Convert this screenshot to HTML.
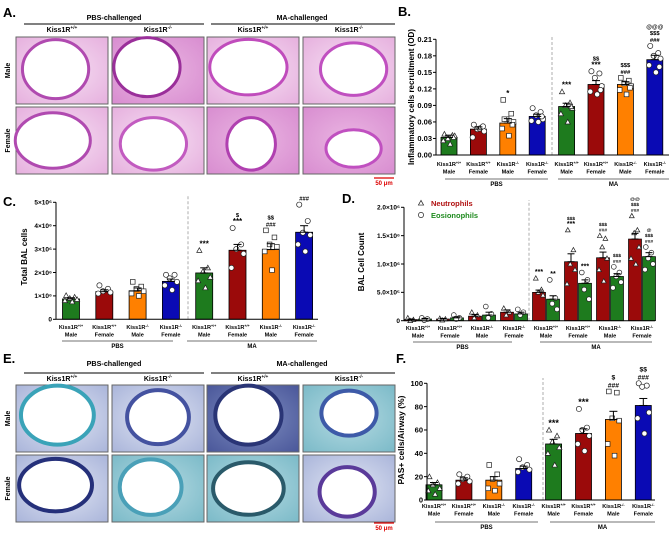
<!DOCTYPE html>
<html><head><meta charset="utf-8"><style>
html,body{margin:0;padding:0;background:#fff;}
svg{display:block;font-family:"Liberation Sans",Arial,sans-serif;}
</style></head><body>
<svg id="fig" width="669" height="535" viewBox="0 0 669 535" xmlns="http://www.w3.org/2000/svg">
<defs>
<radialGradient id="heBg" cx="50%" cy="50%" r="70%"><stop offset="0" stop-color="#f6e0f3"/><stop offset="1" stop-color="#e6b0de"/></radialGradient>
<radialGradient id="heBg2" cx="50%" cy="50%" r="70%"><stop offset="0" stop-color="#eab5e2"/><stop offset="1" stop-color="#d88dd0"/></radialGradient>
<radialGradient id="pasBg" cx="50%" cy="50%" r="70%"><stop offset="0" stop-color="#e0e5f3"/><stop offset="1" stop-color="#aab5da"/></radialGradient>
<radialGradient id="pasBg2" cx="50%" cy="50%" r="70%"><stop offset="0" stop-color="#7f8ec0"/><stop offset="1" stop-color="#4a579a"/></radialGradient>
<radialGradient id="pasBg3" cx="50%" cy="50%" r="70%"><stop offset="0" stop-color="#b5dae2"/><stop offset="1" stop-color="#7bbac8"/></radialGradient>
</defs>
<g id="panels"></g>
</svg>
<script>
// ---------- data ----------
const groupSex = ["Male","Female","Male","Female","Male","Female","Male","Female"];
const groupGeno = ["+/+","+/+","-/-","-/-","+/+","+/+","-/-","-/-"];
const barColors = ["#1e7b1e","#9b0a0a","#ff8000","#0a0ab4","#1e7b1e","#9b0a0a","#ff8000","#0a0ab4"];
const markerShapes = ["tri","circ","sq","circ","tri","circ","sq","circ"];

const bValues = [0.032,0.047,0.058,0.070,0.088,0.128,0.128,0.173];
const bErrors = [0.004,0.004,0.008,0.004,0.006,0.007,0.005,0.008];
const bPoints = [[0.038,0.036,0.030,0.035,0.026,0.020,0.032],[0.055,0.050,0.047,0.043,0.032,0.048,0.052],[0.100,0.075,0.065,0.060,0.048,0.035,0.055,0.065],[0.085,0.078,0.072,0.065,0.062,0.060,0.070],[0.115,0.095,0.090,0.085,0.075,0.060,0.088],[0.152,0.148,0.140,0.125,0.115,0.110,0.118],[0.140,0.135,0.130,0.125,0.118,0.110,0.122],[0.198,0.185,0.180,0.175,0.163,0.150,0.160]];
const bSig = ["","","*","","***","$$|***","$$$|###","@@@|$$$|###"];
const bTicks = ["0.00","0.03","0.06","0.09","0.12","0.15","0.18","0.21"];

const cValues = [0.87,1.18,1.22,1.62,1.98,2.95,2.98,3.72];
const cErrors = [0.05,0.08,0.12,0.10,0.22,0.25,0.25,0.28];
const cPoints = [[1.02,0.95,0.9,0.85,0.8,0.75],[1.45,1.3,1.2,1.15,1.1],[1.6,1.4,1.3,1.2,1.1,1.0],[1.9,1.9,1.75,1.6,1.45,1.25],[2.95,2.2,2.05,1.8,1.65,1.35],[3.9,3.2,3.0,2.8,2.2],[3.8,3.5,3.2,3.1,2.9,2.1],[4.9,4.2,3.7,3.6,3.2,2.9]];
const cSig = ["","","","","***","$|***","$$|###","###"];
const cTicks = ["0","1×10⁶","2×10⁶","3×10⁶","4×10⁶","5×10⁶"];

const dNeut = [0.02,0.03,0.08,0.15,0.50,1.04,1.11,1.44];
const dNeutErr = [0.01,0.01,0.03,0.04,0.04,0.14,0.10,0.10];
const dEos = [0.03,0.05,0.10,0.12,0.38,0.66,0.78,1.13];
const dEosErr = [0.01,0.02,0.05,0.03,0.06,0.06,0.05,0.07];
const dNeutPts = [[0.05,0.02,0],[0.04,0.03,0.01],[0.15,0.1,0.05],[0.22,0.15,0.1],[0.75,0.55,0.5,0.45],[1.6,1.25,1.0,0.9,0.65],[1.5,1.45,1.3,1.1,0.9,0.7],[1.85,1.6,1.55,1.3,1.1,1.0]];
const dEosPts = [[0.05,0.03,0.01],[0.1,0.05,0.03],[0.25,0.12,0.05],[0.2,0.15,0.1],[0.72,0.4,0.3,0.2],[0.85,0.72,0.55,0.38],[0.95,0.85,0.78,0.68,0.58],[1.3,1.2,1.1,1.0,0.9]];
const dNeutSig = ["","","","","***","$$$|***","$$$|###","@@|$$$|###"];
const dEosSig = ["","","","","**","***","$$$|###","@|$$$|###"];
const dTicks = ["0","5.0×10⁵","1.0×10⁶","1.5×10⁶","2.0×10⁶"];

const fValues = [13,17,17,27,48,57,69,81];
const fErrors = [2,2,3,2,4,4,7,6];
const fPoints = [[20,15,13,10,8,5],[22,20,18,16,14],[30,22,18,14,10,8],[35,30,28,26,24],[60,55,50,45,40,30],[78,62,60,55,48,42],[93,92,70,68,48,38],[100,98,97,75,70,57]];
const fSig = ["","","","","***","***","$|###","$$|###"];
const fTicks = ["0","20","40","60","80","100"];

// ---------- helpers ----------
const NS="http://www.w3.org/2000/svg";
const root=document.getElementById('panels');
function el(tag,attrs,parent){const e=document.createElementNS(NS,tag);for(const k in attrs)e.setAttribute(k,attrs[k]);(parent||root).appendChild(e);return e;}
function txt(s,x,y,size,opts,parent){opts=opts||{};const t=el('text',{x:x,y:y,'font-size':size,'font-weight':opts.w||'bold','text-anchor':opts.a||'middle',fill:opts.c||'#000'},parent);if(opts.rot)t.setAttribute('transform','rotate(-90 '+x+' '+y+')');t.textContent=s;return t;}
function marker(g,shape,x,y,r){
  let m;
  if(shape==='tri'){m=el('polygon',{points:(x)+','+(y-r)+' '+(x-r)+','+(y+r*0.8)+' '+(x+r)+','+(y+r*0.8),fill:'#fff',stroke:'#222','stroke-width':0.7},g);}
  else if(shape==='sq'){m=el('rect',{x:x-r*0.9,y:y-r*0.9,width:r*1.8,height:r*1.8,fill:'#fff',stroke:'#222','stroke-width':0.7},g);}
  else {m=el('circle',{cx:x,cy:y,r:r,fill:'#fff',stroke:'#222','stroke-width':0.7},g);}
  
  
}
const jit=[-4,3,-1,5,-5,1,4,-3];
function sigText(g,s,x,yTop,size){if(!s)return;const parts=s.split('|');for(let i=parts.length-1,k=0;i>=0;i--,k++){const t=txt(parts[i],x,yTop-k*size*1.05,parts[i].indexOf('*')>=0?size+1.5:size*0.9,{},g);}}
function xLabels(g,centers,y1,size){
  centers.forEach((cx,i)=>{
    const t=el('text',{x:cx,y:y1,'font-size':size,'font-weight':'bold','text-anchor':'middle'},g);
    
    
    t.appendChild(document.createTextNode('Kiss1R'));
    const s=el('tspan',{'font-size':size*0.65,dy:-size*0.4},t);s.textContent=groupGeno[i];
    const t2=txt(groupSex[i],cx,y1+size*1.3,size,{},g);
    
    
  });
}
function groupLines(g,pbs,ma,y,size){
  const l1=el('line',{x1:pbs[0],x2:pbs[1],y1:y,y2:y,stroke:'#444','stroke-width':0.8},g);
  
  
  const l2=el('line',{x1:ma[0],x2:ma[1],y1:y,y2:y,stroke:'#444','stroke-width':0.8},g);
  
  
  const a=txt('PBS',(pbs[0]+pbs[1])/2,y+7,size,{},g);
  const b=txt('MA',(ma[0]+ma[1])/2,y+7,size,{},g);
}
function yAxis(g,ax,y0,yTop,ticks,size){
  const l=el('line',{x1:ax,x2:ax,y1:y0,y2:yTop,stroke:'#000','stroke-width':1},g);
  
  ticks.forEach((tk,i)=>{const y=y0-(y0-yTop)*i/(ticks.length-1);
    el('line',{x1:ax-3,x2:ax,y1:y,y2:y,stroke:'#000','stroke-width':1},g);
    const t=txt(tk,ax-4,y+size*0.35,size,{a:'end'},g);});
}
function barChart(name,opt,values,errors,points,sig){
  const g=el('g',{});
  const sy=v=>opt.y0-(v/opt.max)*(opt.y0-opt.yTop);
  const centers=values.map((v,i)=>opt.c0+opt.step*i);
  const dl=el('line',{x1:opt.dash,x2:opt.dash,y1:opt.y0,y2:opt.dashTop,stroke:'#999','stroke-width':0.8,'stroke-dasharray':'3,2'},g);
  
  values.forEach((v,i)=>{const cx=centers[i];
    const r=el('rect',{x:cx-opt.bw/2,y:sy(v),width:opt.bw,height:opt.y0-sy(v),fill:barColors[i],stroke:'#000','stroke-width':0.8},g);
    
    points[i].forEach((p,k)=>marker(g,markerShapes[i],cx+jit[k%8]*opt.bw/14,sy(p),2.6));
    const e=errors[i];
    el('line',{x1:cx,x2:cx,y1:sy(v),y2:sy(v+e),stroke:'#000','stroke-width':1},g);
    el('line',{x1:cx-4,x2:cx+4,y1:sy(v+e),y2:sy(v+e),stroke:'#000','stroke-width':1},g);
    el('line',{x1:cx-4,x2:cx+4,y1:sy(v),y2:sy(v),stroke:'#000','stroke-width':1},g);
    const top=Math.min(sy(v+e),sy(Math.max.apply(null,points[i])))-4;
    sigText(g,sig[i],cx,top,opt.sigSize||6);
  });
  yAxis(g,opt.ax,opt.y0,opt.yTop,opt.ticks,opt.tickSize);
  const xa=el('line',{x1:opt.ax,x2:opt.right,y1:opt.y0,y2:opt.y0,stroke:'#000','stroke-width':1},g);
  
  xLabels(g,centers,opt.ly,5.6);
  groupLines(g,opt.pbs,opt.ma,opt.gy,6);
  const yt=txt(opt.title,opt.tx,opt.ty,opt.tsize||8,{rot:true},g);
}
function histo(x,y,w,h,bg,ring,ringW,lum,name){
  const g=el('g',{});
  el('rect',{x:x,y:y,width:w,height:h,fill:bg,stroke:'#666','stroke-width':1},g);
  el('ellipse',{cx:x+w*lum[0],cy:y+h*lum[1],rx:w*Math.min(lum[2]*1.2,0.42),ry:h*Math.min(lum[3]*1.12,0.44),fill:'#fff',stroke:ring,'stroke-width':ringW},g);
}
function panelLabel(s,x,y){const t=txt(s,x,y,13,{a:'start'});}
function histoPanel(letter,top,lineY,hdrY,r1,r2,bgs,rings,ringW,lums,scaleY){
  panelLabel(letter+'.',3,top);
  const a=txt('PBS-challenged',114,top+3,7.2);
  const b=txt('MA-challenged',302,top+3,7.2);
  el('line',{x1:24,x2:204,y1:lineY,y2:lineY,stroke:'#000','stroke-width':1});
  el('line',{x1:211,x2:395,y1:lineY,y2:lineY,stroke:'#000','stroke-width':1});
  const xs=[16,112,207,303];const gen=['+/+','-/-','+/+','-/-'];
  xs.forEach((x,i)=>{const t=el('text',{x:x+46,y:hdrY,'font-size':7,'font-weight':'bold','text-anchor':'middle'});
    
    t.appendChild(document.createTextNode('Kiss1R'));const s=el('tspan',{'font-size':4.8,dy:-3},t);s.textContent=gen[i];
    histo(x,r1[0],92,r1[1]-r1[0],bgs[i][0],rings[i][0],ringW,lums[i][0],'micrograph-male-'+(i+1));
    histo(x,r2[0],92,r2[1]-r2[0],bgs[i][1],rings[i][1],ringW,lums[i][1],'micrograph-female-'+(i+1));});
  const m=txt('Male',10,(r1[0]+r1[1])/2,7,{rot:true});
  const f=txt('Female',10,(r2[0]+r2[1])/2,7,{rot:true});
  el('line',{x1:374,x2:394,y1:scaleY,y2:scaleY,stroke:'#d00','stroke-width':1.2});
  const sb=txt('50 μm',384,scaleY+7,6,{c:'#d00'});
}
// ---------- panel A ----------
histoPanel('A',17,24,32,[37,104],[107,174],
 [["url(#heBg)","url(#heBg)"],["url(#heBg2)","url(#heBg)"],["url(#heBg)","url(#heBg2)"],["url(#heBg)","url(#heBg2)"]],
 [["#b04ab0","#b04ab0"],["#9a2f9a","#c25bc0"],["#c04cbc","#b040b0"],["#c050c0","#c050c0"]],3,
 [[[0.43,0.48,0.3,0.4],[0.4,0.5,0.34,0.37]],[[0.38,0.45,0.3,0.4],[0.45,0.55,0.3,0.35]],[[0.45,0.45,0.38,0.37],[0.48,0.55,0.22,0.35]],[[0.55,0.48,0.3,0.35],[0.55,0.62,0.25,0.25]]],178);
// ---------- panel E ----------
histoPanel('E',363,373,381,[385,452],[455,522],
 [["url(#pasBg)","url(#pasBg)"],["url(#pasBg)","url(#pasBg3)"],["url(#pasBg2)","url(#pasBg3)"],["url(#pasBg3)","url(#pasBg)"]],
 [["#3aa3b8","#25307a"],["#4452a0","#4aa0b8"],["#2a3576","#2a5a6a"],["#3d5aa8","#5a3a9a"]],4,
 [[[0.45,0.45,0.33,0.4],[0.43,0.45,0.33,0.35]],[[0.5,0.48,0.28,0.36],[0.42,0.48,0.28,0.37]],[[0.45,0.45,0.3,0.4],[0.45,0.5,0.32,0.35]],[[0.5,0.42,0.25,0.3],[0.48,0.55,0.25,0.33]]],523);
// ---------- panel B ----------
panelLabel('B.',398,16);
barChart('chart-b-inflammatory',{ax:436,y0:155,yTop:39.3,max:0.21,c0:449,step:29.4,bw:16,dash:552,dashTop:35,right:669,ticks:bTicks,tickSize:7.5,ly:166,pbs:[445,548],ma:[558,669],gy:179,title:'Inflammatory cells recruitment (OD)',tx:414,ty:97,sigSize:6.5},bValues,bErrors,bPoints,bSig);
// ---------- panel C ----------
panelLabel('C.',3,206);
barChart('chart-c-total-bal',{ax:56,y0:319.3,yTop:202.3,max:5,c0:71,step:33.3,bw:17,dash:188,dashTop:196,right:318,ticks:cTicks,tickSize:6.5,ly:329,pbs:[62,173],ma:[187,317],gy:341,title:'Total BAL cells',tx:27,ty:257,sigSize:6.5},cValues,cErrors,cPoints,cSig);
// ---------- panel F ----------
panelLabel('F.',396,363);
barChart('chart-f-pas',{ax:427,y0:500,yTop:383.3,max:100,c0:434,step:29.9,bw:16,dash:543,dashTop:378,right:655,ticks:fTicks,tickSize:7.5,ly:508,pbs:[435,538],ma:[550,655],gy:522,title:'PAS+ cells/Airway (%)',tx:404,ty:440,tsize:8.5,sigSize:7.5},fValues,fErrors,fPoints,fSig);
// ---------- panel D ----------
panelLabel('D.',342,203);
(function(){
  const g=el('g',{});
  const y0=320.7,yTop=207.3,max=2.0;const sy=v=>y0-(v/max)*(y0-yTop);
  const dl=el('line',{x1:529,x2:529,y1:y0,y2:200,stroke:'#999','stroke-width':0.8,'stroke-dasharray':'3,2'},g);
  
  const centers=dNeut.map((v,i)=>418+32*i);
  function bar(cx,v,e,pts,col,shape,sig,nm){
    const r=el('rect',{x:cx-6.5,y:sy(v),width:13,height:y0-sy(v),fill:col,stroke:'#000','stroke-width':0.7},g);
    
    pts.forEach((p,k)=>marker(g,shape,cx+jit[k%8]*0.8,sy(p),2.4));
    el('line',{x1:cx,x2:cx,y1:sy(v),y2:sy(v+e),stroke:'#000','stroke-width':1},g);
    el('line',{x1:cx-3.5,x2:cx+3.5,y1:sy(v+e),y2:sy(v+e),stroke:'#000','stroke-width':1},g);
    el('line',{x1:cx-3.5,x2:cx+3.5,y1:sy(v),y2:sy(v),stroke:'#000','stroke-width':1},g);
    sigText(g,sig,cx,Math.min(sy(v+e),sy(Math.max.apply(null,pts)))-4,5.5);
  }
  centers.forEach((c,i)=>{bar(c-7,dNeut[i],dNeutErr[i],dNeutPts[i],'#9b0a0a','tri',dNeutSig[i],'bar-neutrophils-'+(i+1));
    bar(c+7,dEos[i],dEosErr[i],dEosPts[i],'#1e7b1e','circ',dEosSig[i],'bar-eosinophils-'+(i+1));});
  yAxis(g,404,y0,yTop,dTicks,6.5);
  const xa=el('line',{x1:404,x2:655,y1:y0,y2:y0,stroke:'#000','stroke-width':1},g);
  
  xLabels(g,centers,330,5.6);
  groupLines(g,[413,512],[540,652],342,6);
  const yt=txt('BAL Cell Count',364,262,8,{rot:true},g);
  const lg=el('g',{},g);
  marker(lg,'tri',421,203,2.6);
  const t1=txt('Neutrophils',431,206,7.5,{a:'start',c:'#b01010'},lg);
  marker(lg,'circ',421,215,2.6);
  const t2=txt('Eosionophils',431,218,7.5,{a:'start',c:'#1e8a1e'},lg);
})();
</script>
</body></html>
